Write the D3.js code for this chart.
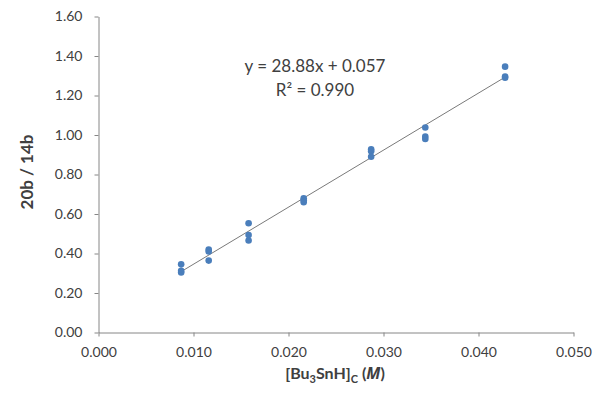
<!DOCTYPE html>
<html><head><meta charset="utf-8">
<script src="https://cdn.jsdelivr.net/npm/d3@7"></script>
<style>body{margin:0;background:#fff}svg{display:block}text{font-family:Lato,"Open Sans",sans-serif;fill:#404040}</style>
</head><body>
<svg id="c" width="600" height="412"></svg>
<script>
const concX = [0.0087,0.0087,0.0087,0.0116,0.0116,0.0116,0.0158,0.0158,0.0158,0.0216,0.0216,0.0216,0.0287,0.0287,0.0287,0.0344,0.0344,0.0344,0.0428,0.0428,0.0428];
const ratioY = [0.345,0.312,0.304,0.420,0.410,0.364,0.553,0.494,0.466,0.680,0.670,0.660,0.928,0.918,0.890,1.038,0.992,0.980,1.346,1.296,1.290];
const slope = 28.88, intercept = 0.057;
const xTicks = [0,0.01,0.02,0.03,0.04,0.05];
const yTicks = [0,0.2,0.4,0.6,0.8,1.0,1.2,1.4,1.6];
const eqLines = ["y = 28.88x + 0.057","R² = 0.990"];

const svg = d3.select("#c");
const x = d3.scaleLinear().domain([0,0.05]).range([98.5,573.5]);
const y = d3.scaleLinear().domain([0,1.6]).range([332.5,16.5]);
const axisColor = "#868686";

const gx = svg.append("g").attr("transform","translate(0,332.5)")
  .call(d3.axisBottom(x).tickValues(xTicks).tickFormat(d3.format(".3f")).tickSizeInner(4).tickSizeOuter(0).tickPadding(11));
const gy = svg.append("g").attr("transform","translate(98.5,0)")
  .call(d3.axisLeft(y).tickValues(yTicks).tickFormat(d3.format(".2f")).tickSizeInner(4).tickSizeOuter(0).tickPadding(12));
[gx,gy].forEach(g=>{
  g.selectAll("path,line").attr("stroke",axisColor);
  g.selectAll("text").attr("font-size",14).attr("fill","#404040").attr("font-family","Lato,'Open Sans',sans-serif");
});

// trendline over data range
const xmin = d3.min(concX), xmax = d3.max(concX);
svg.append("line")
  .attr("x1",x(xmin)).attr("y1",y(slope*xmin+intercept))
  .attr("x2",x(xmax)).attr("y2",y(slope*xmax+intercept))
  .attr("stroke","#7a7a7a").attr("stroke-width",1);

svg.append("g").selectAll("circle").data(concX.map((v,i)=>[v,ratioY[i]])).join("circle")
  .attr("cx",d=>x(d[0])).attr("cy",d=>y(d[1])).attr("r",3.3).attr("fill","#4a7ebb");

// equation
svg.append("g").selectAll("text").data(eqLines).join("text")
  .attr("x",315).attr("y",(d,i)=>72+i*24).attr("text-anchor","middle").attr("font-size",17)
  .attr("fill","#111").text(d=>d);

// y title
svg.append("text").attr("transform","translate(33,172) rotate(-90)").attr("text-anchor","middle")
  .attr("font-size",17).attr("font-weight","bold").attr("fill","#1a1a1a").text("20b / 14b");

// x title
const xt = svg.append("text").attr("x",335).attr("y",379).attr("text-anchor","middle")
  .attr("font-size",16).attr("font-weight","bold").attr("fill","#1a1a1a");
xt.append("tspan").text("[Bu");
xt.append("tspan").attr("font-size",11).attr("dy",4).text("3");
xt.append("tspan").attr("dy",-4).text("SnH]");
xt.append("tspan").attr("font-size",11).attr("dy",4).text("C");
xt.append("tspan").attr("dy",-4).text(" (");
xt.append("tspan").attr("font-style","italic").attr("font-family","'Open Sans','DejaVu Sans',sans-serif").text("M");
xt.append("tspan").text(")");
</script>
</body></html>
